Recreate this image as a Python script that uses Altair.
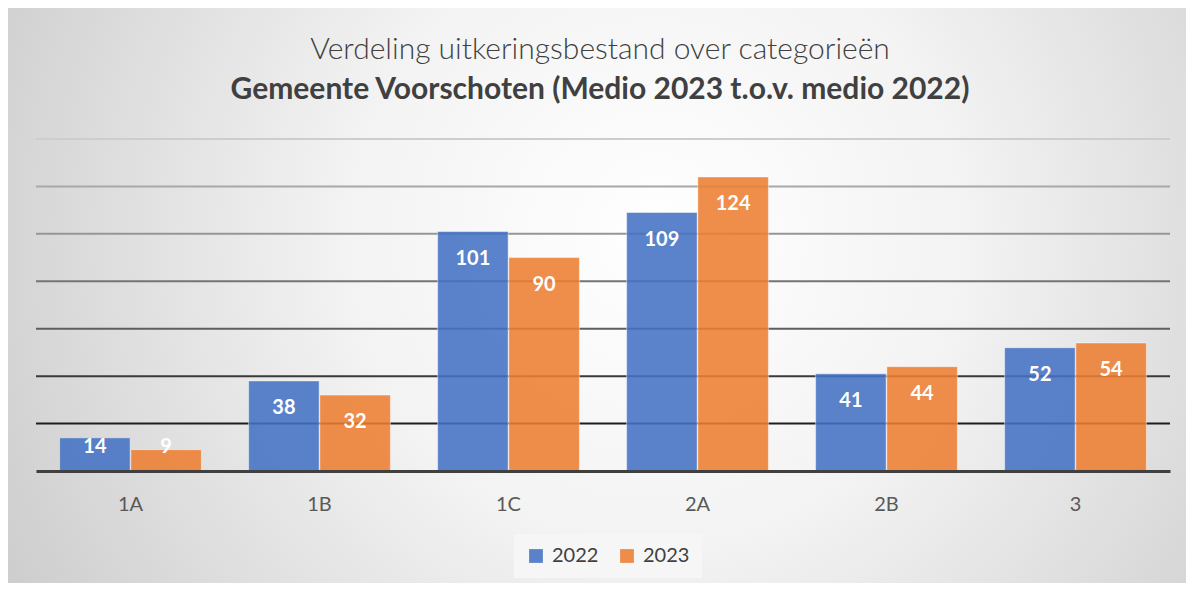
import altair as alt
import pandas as pd

categories = ["1A", "1B", "1C", "2A", "2B", "3"]
values_2022 = [14, 38, 101, 109, 41, 52]
values_2023 = [9, 32, 90, 124, 44, 54]
years = ["2022", "2023"]
grid_values = [20, 40, 60, 80, 100, 120, 140]
grid_colors = ["#1e1e1e", "#3a3a3a", "#5e5e5e", "#747474", "#969696", "#a8a8a8", "#cdcdcd"]

rows = []
for c, a, b in zip(categories, values_2022, values_2023):
    rows.append({"cat": c, "year": years[0], "v": a})
    rows.append({"cat": c, "year": years[1], "v": b})
df = pd.DataFrame(rows)
grid_df = pd.DataFrame({"g": grid_values, "col": grid_colors})

W, H = 1134, 332
PL, PT, PR, PB = 28, 131, 16, 112

bg_gradient = alt.RadialGradient(
    gradient="radial",
    x1=0.55, y1=0.45, r1=0.0,
    x2=0.55, y2=0.45, r2=0.75,
    stops=[
        alt.GradientStop(offset=0.0, color="#ffffff"),
        alt.GradientStop(offset=0.35, color="#f3f3f3"),
        alt.GradientStop(offset=1.0, color="#c0c0c0"),
    ],
)

background = alt.Chart(pd.DataFrame({"d": [0]})).mark_rect(
    color=bg_gradient, clip=False
).encode(
    x=alt.value(-PL), x2=alt.value(W + PR),
    y=alt.value(-PT), y2=alt.value(H + PB),
)

yscale = alt.Scale(domain=[0, 140], nice=False)
xscale = alt.Scale(paddingInner=0.25, paddingOuter=0.125)

grid = alt.Chart(grid_df).mark_rule(strokeWidth=2).encode(
    y=alt.Y("g:Q", scale=yscale, axis=None),
    color=alt.Color("col:N", scale=None),
)

xenc = alt.X(
    "cat:N",
    sort=categories,
    scale=xscale,
    axis=alt.Axis(
        title=None, labelAngle=0, ticks=False, labelPadding=23,
        labelFontSize=20, labelColor="#595959", labelFont="Lato",
        domainColor="#404040", domainWidth=3, grid=False, zindex=1,
    ),
)

bars = alt.Chart(df).mark_bar(
    fillOpacity=0.88, stroke="#ffffff", strokeOpacity=0.45, strokeWidth=1
).encode(
    x=xenc,
    xOffset=alt.XOffset("year:N", scale=alt.Scale(paddingInner=0.01)),
    y=alt.Y("v:Q", scale=yscale, axis=None),
    color=alt.Color(
        "year:N",
        scale=alt.Scale(domain=years, range=["#4472C4", "#ED7D31"]),
        legend=alt.Legend(
            title=None, orient="none", direction="horizontal",
            legendX=478, legendY=395,
            fillColor="#f6f6f6", padding=12,
            symbolType="square", symbolSize=190, symbolStrokeWidth=0,
            symbolOpacity=0.88,
            labelFontSize=20, labelFont="Lato", labelColor="#404040",
            labelOffset=6, columnPadding=18, zindex=1,
        ),
    ),
)

labels = alt.Chart(df).transform_calculate(
    lp="max(datum.v - 11.4, 10)"
).mark_text(
    color="white", fontWeight="bold", fontSize=20, font="Lato", baseline="middle"
).encode(
    x=alt.X("cat:N", sort=categories, scale=xscale),
    xOffset=alt.XOffset("year:N", scale=alt.Scale(paddingInner=0.01)),
    y=alt.Y("lp:Q", scale=yscale, axis=None),
    text="v:Q",
)

title1 = alt.Chart(pd.DataFrame({"t": ["Verdeling uitkeringsbestand over categorieën"]})).mark_text(
    fontSize=30, font="Lato", fontWeight=300, color="#404040", baseline="middle"
).encode(x=alt.value(W / 2 - 3), y=alt.value(-89), text="t:N")

title2 = alt.Chart(pd.DataFrame({"t": ["Gemeente Voorschoten (Medio 2023 t.o.v. medio 2022)"]})).mark_text(
    fontSize=30, font="Lato", fontWeight="bold", color="#404040", baseline="middle"
).encode(x=alt.value(W / 2 - 3), y=alt.value(-49), text="t:N")

chart = alt.layer(background, grid, bars, labels, title1, title2).properties(
    width=W, height=H,
    autosize=alt.AutoSizeParams(type="none"),
    padding={"left": PL, "top": PT, "right": PR, "bottom": PB},
).configure_view(stroke=None).configure(background="#ffffff")

chart.save("out.html", embed_options={"renderer": "svg", "actions": False})
